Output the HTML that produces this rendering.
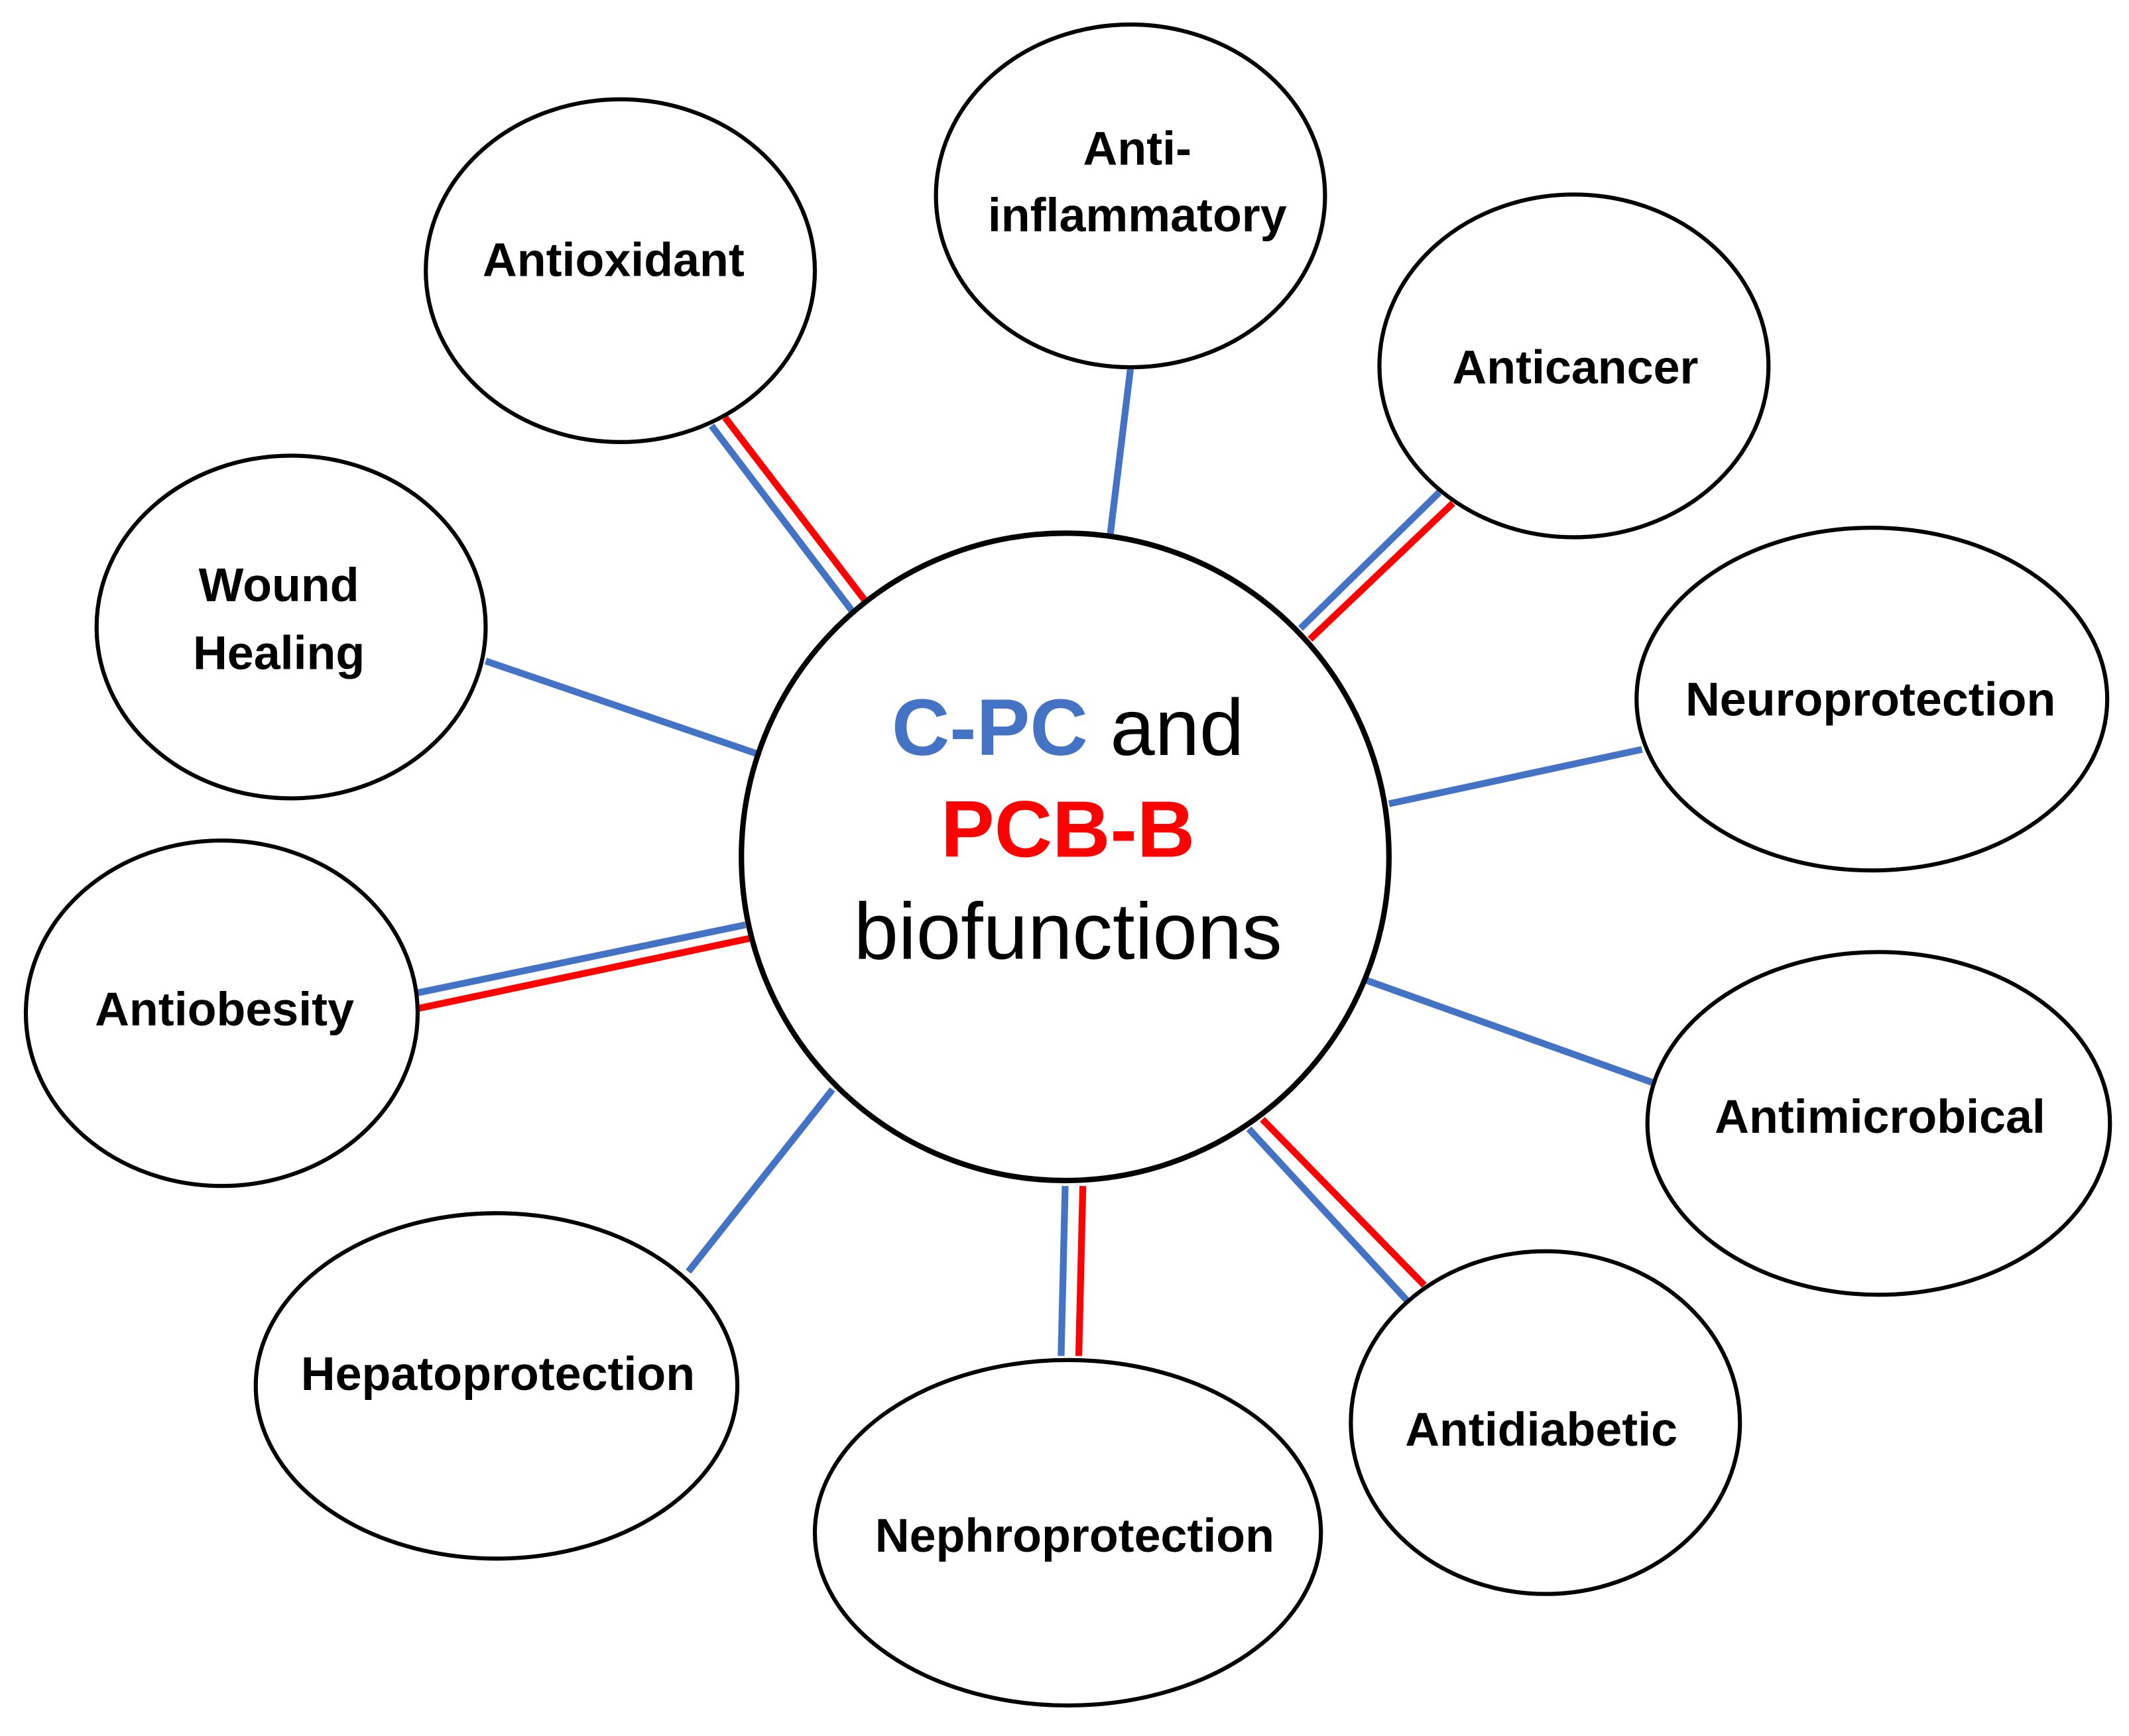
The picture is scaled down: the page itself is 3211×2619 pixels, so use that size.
<!DOCTYPE html>
<html><head><meta charset="utf-8"><style>
html,body{margin:0;padding:0;background:#fff;}
svg{display:block;}
text{font-family:"Liberation Sans",sans-serif;text-anchor:middle;}
.l{font-size:35px;font-weight:bold;fill:#000;}
.c{font-size:59px;}
</style></head><body>
<svg width="3211" height="2619" viewBox="0 0 1565 1276.4" xmlns="http://www.w3.org/2000/svg">
<g stroke-width="5" fill="none">
<line x1="523" y1="313" x2="627" y2="450" stroke="#4472C4"/>
<line x1="533" y1="307" x2="637" y2="443" stroke="#FF0000"/>
<line x1="831" y1="271" x2="816" y2="394" stroke="#4472C4"/>
<line x1="1058" y1="362" x2="956" y2="462" stroke="#4472C4"/>
<line x1="1068" y1="370" x2="963" y2="470" stroke="#FF0000"/>
<line x1="357" y1="486" x2="556" y2="554" stroke="#4472C4"/>
<line x1="1207" y1="551" x2="1021" y2="591" stroke="#4472C4"/>
<line x1="302" y1="731" x2="548" y2="680" stroke="#4472C4"/>
<line x1="305" y1="742" x2="551" y2="690" stroke="#FF0000"/>
<line x1="1005" y1="721" x2="1215" y2="796" stroke="#4472C4"/>
<line x1="612" y1="801" x2="506" y2="935" stroke="#4472C4"/>
<line x1="783" y1="872" x2="780" y2="997" stroke="#4472C4"/>
<line x1="796" y1="872" x2="793" y2="997" stroke="#FF0000"/>
<line x1="918" y1="830" x2="1035" y2="957" stroke="#4472C4"/>
<line x1="928" y1="823" x2="1047" y2="945" stroke="#FF0000"/>
</g>
<g fill="#fff" stroke="#000" stroke-width="3">
<ellipse cx="456" cy="199" rx="143" ry="126"/>
<ellipse cx="831" cy="144" rx="143" ry="126"/>
<ellipse cx="1157" cy="269" rx="143" ry="126"/>
<ellipse cx="214" cy="461" rx="143" ry="126"/>
<ellipse cx="1376" cy="514" rx="173" ry="126"/>
<ellipse cx="163" cy="745" rx="144" ry="127"/>
<ellipse cx="1381" cy="826" rx="170" ry="126"/>
<ellipse cx="365" cy="1019" rx="177" ry="127"/>
<ellipse cx="785" cy="1127" rx="186" ry="127"/>
<ellipse cx="1136" cy="1046" rx="143" ry="126"/>
<circle cx="783" cy="630" r="238" stroke-width="4"/>
</g>
<text class="l" x="451" y="203">Antioxidant</text>
<text class="l" x="836" y="121">Anti-</text>
<text class="l" x="836" y="170">inflammatory</text>
<text class="l" x="1158" y="282">Anticancer</text>
<text class="l" x="205" y="442">Wound</text>
<text class="l" x="205" y="492">Healing</text>
<text class="l" x="1375" y="526">Neuroprotection</text>
<text class="l" x="165" y="754">Antiobesity</text>
<text class="l" x="1382" y="833">Antimicrobical</text>
<text class="l" x="366" y="1022">Hepatoprotection</text>
<text class="l" x="790" y="1141">Nephroprotection</text>
<text class="l" x="1133" y="1063">Antidiabetic</text>
<text class="c" x="785" y="555"><tspan fill="#4472C4" font-weight="bold">C-PC</tspan> and</text>
<text class="c" x="785" y="630" fill="#FF0000" font-weight="bold">PCB-B</text>
<text class="c" x="785" y="705">biofunctions</text>
</svg>
</body></html>
